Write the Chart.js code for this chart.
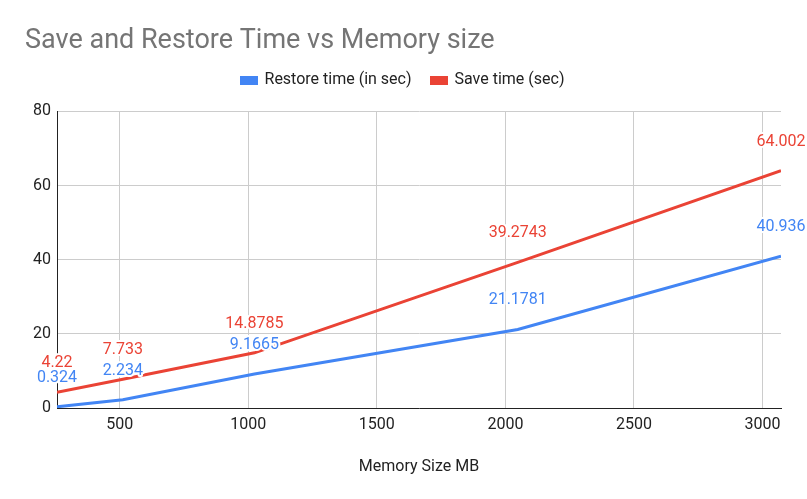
<!DOCTYPE html>
<html>
<head>
<meta charset="utf-8">
<script src="https://cdn.jsdelivr.net/npm/chart.js@4"></script>
<style>
  html, body { margin: 0; padding: 0; background: #fff; }
  #wrap { width: 807px; height: 499px; }
</style>
</head>
<body>
<div id="wrap"><canvas id="memChart" width="807" height="499"></canvas></div>
<script>
const memorySizes = [256, 512, 1024, 2048, 3072];
const restoreTimes = [0.324, 2.234, 9.1665, 21.1781, 40.936];
const saveTimes = [4.22, 7.733, 14.8785, 39.2743, 64.002];
const xTicks = [500, 1000, 1500, 2000, 2500, 3000];
const yTicks = [0, 20, 40, 60, 80];

// value labels drawn above each point with a white halo
const pointLabels = {
    id: 'pointLabels',
    afterDatasetsDraw(chart) {
        const ctx = chart.ctx;
        ctx.save();
        ctx.font = '16px Roboto';
        ctx.textAlign = 'center';
        ctx.textBaseline = 'middle';
        ctx.lineJoin = 'round';
        chart.data.datasets.forEach((ds, i) => {
            chart.getDatasetMeta(i).data.forEach((pt, j) => {
                const txt = String(ds.data[j].y);
                const y = pt.y - 29;
                ctx.strokeStyle = '#fff';
                ctx.lineWidth = 4;
                ctx.strokeText(txt, pt.x, y);
                ctx.fillStyle = ds.borderColor;
                ctx.fillText(txt, pt.x, y);
            });
        });
        ctx.restore();
    }
};

// a bit more room under the legend
const legendGap = {
    id: 'legendGap',
    beforeInit(chart) {
        const fit = chart.legend.fit;
        chart.legend.fit = function () {
            fit.bind(chart.legend)();
            this.height += 13;
        };
    }
};

const toPoints = vals => memorySizes.map((m, i) => ({ x: m, y: vals[i] }));
const tickFont = { family: 'Roboto', size: 16 };

new Chart(document.getElementById('memChart'), {
    type: 'line',
    data: {
        datasets: [{
            label: 'Restore time (in sec)',
            data: toPoints(restoreTimes),
            borderColor: '#4285f4',
            backgroundColor: '#4285f4',
            borderWidth: 3,
            pointRadius: 0,
            tension: 0
        }, {
            label: 'Save time (sec)',
            data: toPoints(saveTimes),
            borderColor: '#ea4335',
            backgroundColor: '#ea4335',
            borderWidth: 3,
            pointRadius: 0,
            tension: 0
        }]
    },
    options: {
        responsive: false,
        animation: false,
        layout: { padding: { left: 25, right: 26, top: 6, bottom: 19 } },
        plugins: {
            title: {
                display: true,
                text: 'Save and Restore Time vs Memory size',
                align: 'start',
                color: '#757575',
                font: { family: 'Roboto', size: 27, weight: 'normal' },
                padding: { top: 19, bottom: -5 }
            },
            legend: {
                labels: {
                    color: '#222',
                    font: { family: 'Roboto', size: 16 },
                    boxWidth: 15,
                    boxHeight: 6,
                    padding: 20
                }
            },
            tooltip: { enabled: false }
        },
        scales: {
            x: {
                type: 'linear',
                min: 256,
                max: 3072,
                afterBuildTicks: s => { s.ticks = xTicks.map(v => ({ value: v })); },
                afterFit: s => { s.height = 72; },
                ticks: { color: '#222', font: tickFont, padding: 7, callback: v => String(v) },
                grid: { color: '#ccc', drawTicks: false },
                border: { color: '#222', width: 1 },
                title: {
                    display: true,
                    text: 'Memory Size MB',
                    color: '#222',
                    font: { family: 'Roboto', size: 16 },
                    padding: { top: 4, bottom: 3 }
                }
            },
            y: {
                min: 0,
                max: 80,
                afterBuildTicks: s => { s.ticks = yTicks.map(v => ({ value: v })); },
                afterFit: s => { s.width = 32; },
                ticks: { color: '#222', font: tickFont, padding: 6, callback: v => String(v) },
                grid: { color: '#ccc', drawTicks: false },
                border: { color: '#222', width: 1 }
            }
        }
    },
    plugins: [pointLabels, legendGap]
});
</script>
</body>
</html>
